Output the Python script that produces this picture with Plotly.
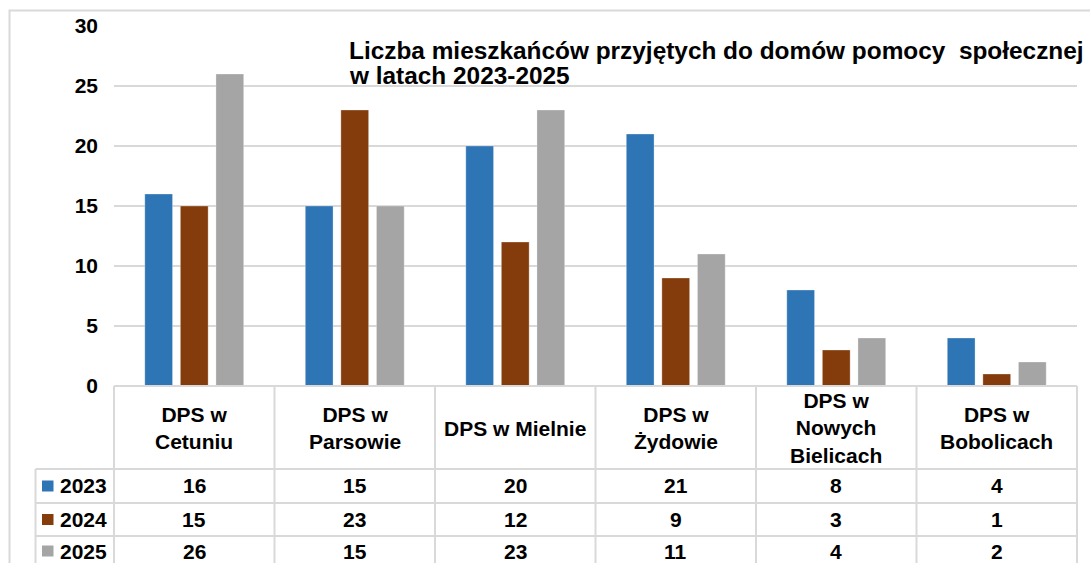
import plotly.graph_objects as go

categories = ["DPS w Cetuniu", "DPS w Parsowie", "DPS w Mielnie", "DPS w Żydowie",
              "DPS w Nowych Bielicach", "DPS w Bobolicach"]
header_labels = ["DPS w<br>Cetuniu", "DPS w<br>Parsowie", "DPS w Mielnie", "DPS w<br>Żydowie",
                 "DPS w<br>Nowych<br>Bielicach", "DPS w<br>Bobolicach"]
series_names = ["2023", "2024", "2025"]
values_2023 = [16, 15, 20, 21, 8, 4]
values_2024 = [15, 23, 12, 9, 3, 1]
values_2025 = [26, 15, 23, 11, 4, 2]
colors = ["#2E75B6", "#843C0C", "#A5A5A5"]
y_ticks = [0, 5, 10, 15, 20, 25, 30]
title_lines = ["Liczba mieszkańców przyjętych do domów pomocy  społecznej", "w latach 2023-2025"]

series = [values_2023, values_2024, values_2025]

W, H = 1090, 563
PL, PR, PT, PB = 114, 1077, 26, 386   # plot area in page pixels
L, T = PL, PT
R = W - PR
B = H - PB
plot_w = PR - PL
plot_h = PB - PT
FONT = "Liberation Sans, Arial, sans-serif"
GRID = "#D9D9D9"


def yp(py):
    return (PB - py) / plot_h


def xp(px):
    return (px - PL) / plot_w


fig = go.Figure()
for name, vals, col in zip(series_names, series, colors):
    fig.add_trace(go.Bar(x=categories, y=vals, name=name,
                         marker=dict(color=col, line=dict(width=0.6, color="rgba(255,255,255,0.5)")),
                         showlegend=False, hoverinfo="x+y+name"))

n = len(categories)
shapes = []
annotations = []

shapes.append(dict(type="rect", xref="paper", yref="paper",
                   x0=xp(9.5), x1=1.05, y0=-0.7, y1=yp(10.5),
                   line=dict(color=GRID, width=2), fillcolor="rgba(0,0,0,0)", layer="below"))

row_lines = [469, 503, 536]
bottom = 620
leg_left = 35.5

shapes.append(dict(type="line", xref="paper", yref="paper", x0=0, x1=1, y0=0, y1=0,
                   line=dict(color=GRID, width=2)))
for i in range(n + 1):
    xv = i / n
    shapes.append(dict(type="line", xref="paper", yref="paper", x0=xv, x1=xv,
                       y0=0, y1=yp(bottom), line=dict(color=GRID, width=2)))
shapes.append(dict(type="line", xref="paper", yref="paper", x0=xp(leg_left), x1=xp(leg_left),
                   y0=yp(row_lines[0]), y1=yp(bottom), line=dict(color=GRID, width=2)))
for ry in row_lines:
    shapes.append(dict(type="line", xref="paper", yref="paper", x0=xp(leg_left), x1=1,
                       y0=yp(ry), y1=yp(ry), line=dict(color=GRID, width=2)))

for cat, lab in zip(categories, header_labels):
    annotations.append(dict(x=cat, xref="x", y=yp(428), yref="paper", text=lab,
                            showarrow=False, xanchor="center", yanchor="middle",
                            font=dict(family=FONT, size=21, color="#000", weight="bold")))

row_centers = [486, 519.5, 551]
for name, vals, col, rc in zip(series_names, series, colors, row_centers):
    shapes.append(dict(type="rect", xref="paper", yref="paper",
                       x0=xp(42), x1=xp(53.5),
                       y0=yp(rc + 5.5), y1=yp(rc - 5.5),
                       fillcolor=col, line=dict(width=0)))
    annotations.append(dict(x=xp(58), xref="paper", y=yp(rc), yref="paper", text=name,
                            showarrow=False, xanchor="left", yanchor="middle",
                            font=dict(family=FONT, size=21, color="#000", weight="bold")))
    for cat, v in zip(categories, vals):
        annotations.append(dict(x=cat, xref="x", y=yp(rc), yref="paper", text=str(v),
                                showarrow=False, xanchor="center", yanchor="middle",
                                font=dict(family=FONT, size=21, color="#000", weight="bold")))

for txt, cy in zip(title_lines, [51, 76]):
    annotations.append(dict(x=xp(347), xref="paper", y=yp(cy), yref="paper", text=txt,
                            showarrow=False, xanchor="left", yanchor="middle",
                            font=dict(family=FONT, size=24.4, color="#000", weight="bold")))

fig.update_layout(
    width=W, height=H,
    margin=dict(l=L, r=R, t=T, b=B, pad=0),
    paper_bgcolor="white", plot_bgcolor="white",
    barmode="group", bargap=0.335, bargroupgap=0.22,
    shapes=shapes, annotations=annotations,
    showlegend=False,
)
fig.update_xaxes(showticklabels=False, showgrid=False, showline=False, zeroline=False, ticks="",
                 categoryorder="array", categoryarray=categories)
fig.update_yaxes(range=[0, 30], tickvals=y_ticks, showgrid=True, gridcolor=GRID, gridwidth=2,
                 zeroline=False, showline=False, ticks="", ticklabelstandoff=15,
                 tickfont=dict(family=FONT, size=21, color="#000", weight="bold"))

fig.write_html("out.html", config={"displayModeBar": False},
               post_script="document.body.style.margin='0';document.body.style.overflow='hidden';")
